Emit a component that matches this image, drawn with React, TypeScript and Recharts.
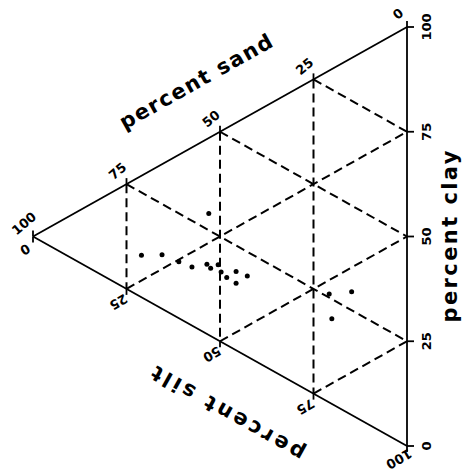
import React from "react";
import { ScatterChart, Scatter, XAxis, YAxis, ReferenceLine } from "recharts";

// Sample composition (percent)
const SAND = [53, 71, 65.5, 61, 57.5, 53.5, 52.5, 50.5, 49.7, 48.2, 45.7, 42.7, 45.7, 20.8, 14.8, 20.1];
const CLAY = [29, 10, 12.9, 13.5, 14, 16.6, 16.2, 18, 16.7, 16.1, 18.8, 19.2, 16, 25.9, 29.4, 20.3];
const SILT = [18, 19, 21.6, 25.5, 28.5, 29.9, 31.3, 31.5, 33.6, 35.7, 35.5, 38.1, 38.3, 53.3, 55.8, 59.6];

const TICKS = [0, 25, 50, 75, 100];
const GRID_LEVELS = [25, 50, 75];

const TITLE_SAND = "percent sand";
const TITLE_CLAY = "percent clay";
const TITLE_SILT = "percent silt";

// ternary -> cartesian (x: 0 at sand vertex, 1 at right side; y: +0.5 clay vertex, -0.5 silt vertex)
const toXY = (sand: number, clay: number, silt: number) => ({
  x: 1 - sand / 100,
  y: (clay - silt) / 200,
});

const points = SAND.map((s, i) => toXY(s, CLAY[i], SILT[i]));

type Seg = [{ x: number; y: number }, { x: number; y: number }];

const edges: Seg[] = [
  [toXY(100, 0, 0), toXY(0, 100, 0)],
  [toXY(0, 100, 0), toXY(0, 0, 100)],
  [toXY(0, 0, 100), toXY(100, 0, 0)],
];

const grid: Seg[] = [];
GRID_LEVELS.forEach((v) => {
  grid.push([toXY(v, 100 - v, 0), toXY(v, 0, 100 - v)]);
  grid.push([toXY(100 - v, v, 0), toXY(0, v, 100 - v)]);
  grid.push([toXY(100 - v, 0, v), toXY(0, 100 - v, v)]);
});

const sandTicks = TICKS.map((v) => ({ ...toXY(v, 100 - v, 0), label: String(v) }));
const clayTicks = TICKS.map((v) => ({ ...toXY(0, v, 100 - v), label: String(v) }));
const siltTicks = TICKS.map((v) => ({ ...toXY(100 - v, 0, v), label: String(v) }));

const titles = [
  { ...toXY(50, 50, 0), label: TITLE_SAND, dx: -24, dy: -50, rot: -29.3 },
  { ...toXY(0, 50, 50), label: TITLE_CLAY, dx: 43, dy: 0, rot: -90 },
  { ...toXY(50, 0, 50), label: TITLE_SILT, dx: 8, dy: 72, rot: 209.3 },
];

const FONT = "'DejaVu Sans', sans-serif";

const makeTickShape =
  (tx: number, ty: number, ldx: number, ldy: number, rot: number) => (p: any) => {
    const { cx, cy, payload } = p;
    const lx = cx + ldx;
    const ly = cy + ldy;
    return (
      <g>
        <line x1={cx} y1={cy} x2={cx + tx} y2={cy + ty} stroke="#000" strokeWidth={1.8} />
        <text
          x={lx}
          y={ly}
          textAnchor="middle"
          dominantBaseline="central"
          fontFamily={FONT}
          fontWeight={700}
          fontSize={13}
          fill="#000"
          transform={`rotate(${rot} ${lx} ${ly})`}
        >
          {payload.label}
        </text>
      </g>
    );
  };

const titleShape = (p: any) => {
  const { cx, cy, payload } = p;
  const x = cx + payload.dx;
  const y = cy + payload.dy;
  return (
    <text
      x={x}
      y={y}
      textAnchor="middle"
      dominantBaseline="central"
      fontFamily={FONT}
      fontWeight={700}
      fontSize={21}
      textLength={172}
      lengthAdjust="spacing"
      fill="#000"
      transform={`rotate(${payload.rot} ${x} ${y})`}
    >
      {payload.label}
    </text>
  );
};

const dotShape = (p: any) => <circle cx={p.cx} cy={p.cy} r={2.5} fill="#000" />;

export default function App() {
  return (
    <div style={{ position: "absolute", left: 0, top: 0, background: "#fff" }}>
      <ScatterChart
        width={464}
        height={475}
        margin={{ top: 27, right: 57, bottom: 29, left: 33 }}
      >
        <XAxis type="number" dataKey="x" domain={[0, 1]} hide />
        <YAxis type="number" dataKey="y" domain={[-0.5, 0.5]} hide />
        {grid.map((s, i) => (
          <ReferenceLine
            key={"g" + i}
            segment={s}
            stroke="#000"
            strokeWidth={2}
            strokeDasharray="9 5"
            ifOverflow="visible"
          />
        ))}
        {edges.map((s, i) => (
          <ReferenceLine key={"e" + i} segment={s} stroke="#000" strokeWidth={1.8} ifOverflow="visible" />
        ))}
        <Scatter data={points} shape={dotShape} isAnimationActive={false} />
        <Scatter data={sandTicks} shape={makeTickShape(0, -6, -9, -13, -40)} isAnimationActive={false} />
        <Scatter data={clayTicks} shape={makeTickShape(7, 0, 19, 0, -90)} isAnimationActive={false} />
        <Scatter data={siltTicks} shape={makeTickShape(0, 6, -8, 13, 150)} isAnimationActive={false} />
        <Scatter data={titles} shape={titleShape} isAnimationActive={false} />
      </ScatterChart>
    </div>
  );
}
